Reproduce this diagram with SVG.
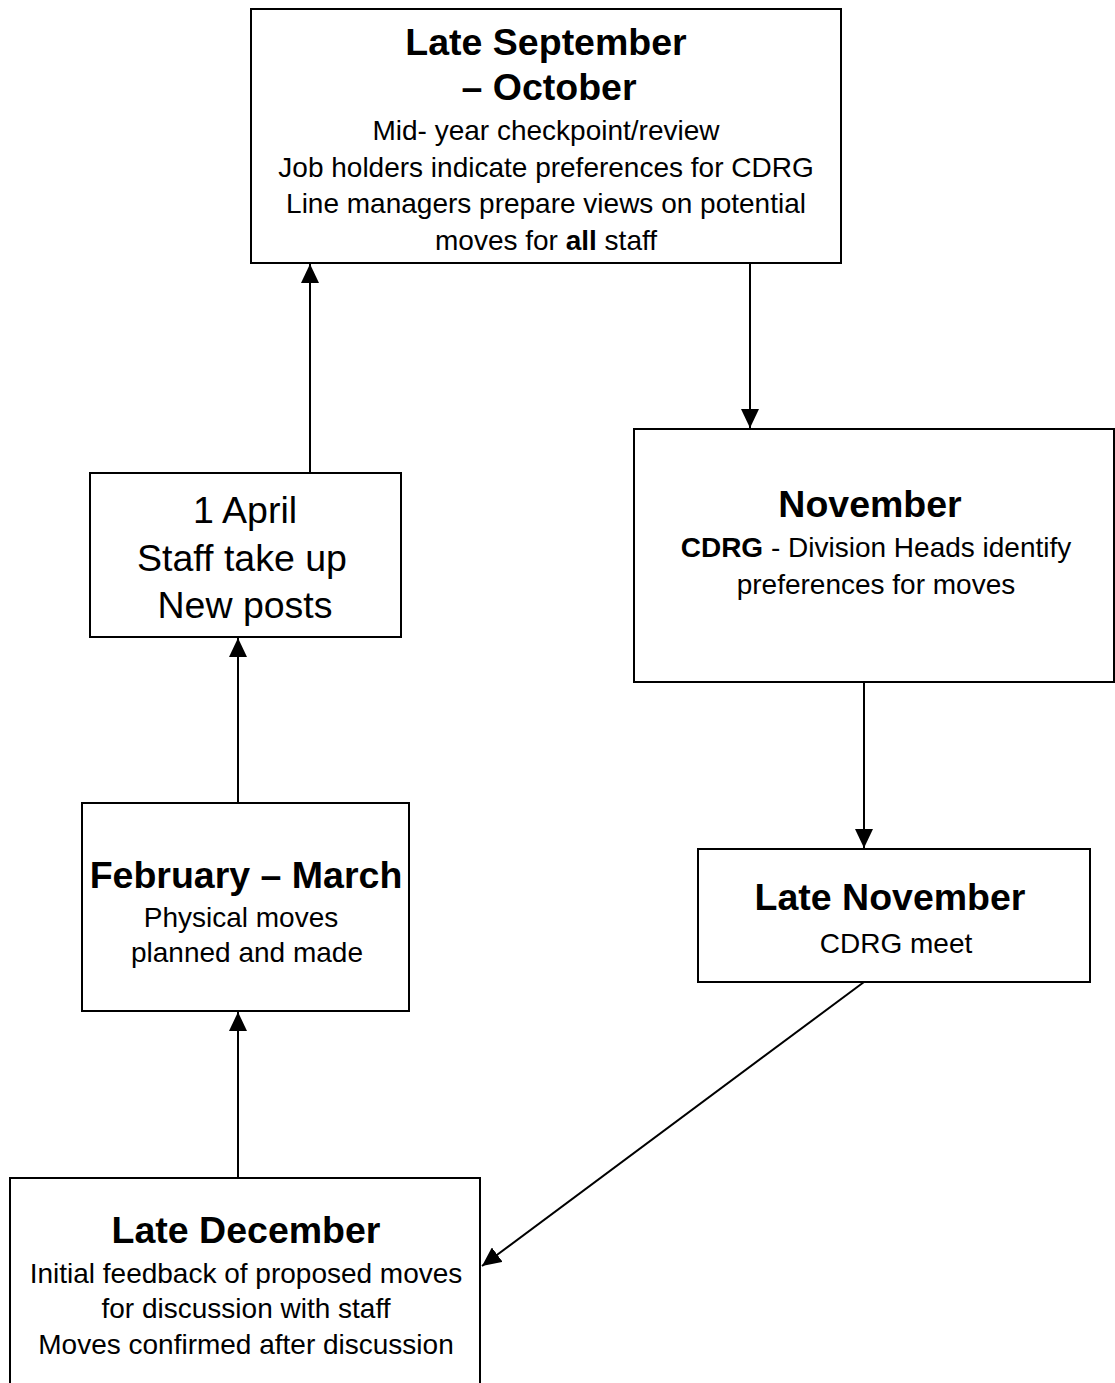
<svg xmlns="http://www.w3.org/2000/svg" width="1115" height="1383" viewBox="0 0 1115 1383">
<style>
.box{fill:#fff;stroke:#000;stroke-width:2}
.t{font-family:"Liberation Sans",Arial,sans-serif;fill:#000;text-anchor:middle}
.h{font-size:37.5px;font-weight:bold}
.r{font-size:28px}
.rl{font-size:37.5px}
.b{font-weight:bold}
.c{stroke:#000;stroke-width:2;fill:none}
</style>
<defs>
<marker id="ah" markerWidth="20" markerHeight="18" refX="19" refY="9" orient="auto" markerUnits="userSpaceOnUse">
<path d="M0,0 L19,9 L0,18 z" fill="#000"/>
</marker>
</defs>
<rect width="1115" height="1383" fill="#fff"/>
<g id="connectors">
<path class="c" d="M750,263 L750,428" marker-end="url(#ah)"/>
<path class="c" d="M864,682 L864,848" marker-end="url(#ah)"/>
<path class="c" d="M864,982 L482,1266" marker-end="url(#ah)"/>
<path class="c" d="M238,1178 L238,1012" marker-end="url(#ah)"/>
<path class="c" d="M238,803 L238,638" marker-end="url(#ah)"/>
<path class="c" d="M310,473 L310,264" marker-end="url(#ah)"/>
</g>
<g id="sep-oct">
<rect class="box" x="251" y="9" width="590" height="254"/>
<text class="t h" x="546" y="55">Late September</text>
<text class="t h" x="549" y="100">– October</text>
<text class="t r" x="546" y="140">Mid- year checkpoint/review</text>
<text class="t r" x="546" y="177">Job holders indicate preferences for CDRG</text>
<text class="t r" x="546" y="213">Line managers prepare views on potential</text>
<text class="t r" x="546" y="250">moves for <tspan class="b">all</tspan> staff</text>
</g>
<g id="november">
<rect class="box" x="634" y="429" width="480" height="253"/>
<text class="t h" x="870" y="517">November</text>
<text class="t r" x="876" y="557"><tspan class="b">CDRG</tspan> - Division Heads identify</text>
<text class="t r" x="876" y="594">preferences for moves</text>
</g>
<g id="late-november">
<rect class="box" x="698" y="849" width="392" height="133"/>
<text class="t h" x="890" y="910">Late November</text>
<text class="t r" x="896" y="953">CDRG meet</text>
</g>
<g id="late-december">
<rect class="box" x="10" y="1178" width="470" height="230"/>
<text class="t h" x="246" y="1243">Late December</text>
<text class="t r" x="246" y="1283">Initial feedback of proposed moves</text>
<text class="t r" x="246" y="1318">for discussion with staff</text>
<text class="t r" x="246" y="1354">Moves confirmed after discussion</text>
</g>
<g id="feb-mar">
<rect class="box" x="82" y="803" width="327" height="208"/>
<text class="t h" x="246" y="888">February – March</text>
<text class="t r" x="241" y="927">Physical moves</text>
<text class="t r" x="247" y="962">planned and made</text>
</g>
<g id="april">
<rect class="box" x="90" y="473" width="311" height="164"/>
<text class="t rl" x="245" y="523">1 April</text>
<text class="t rl" x="242" y="571">Staff take up</text>
<text class="t rl" x="245" y="618">New posts</text>
</g>
</svg>
